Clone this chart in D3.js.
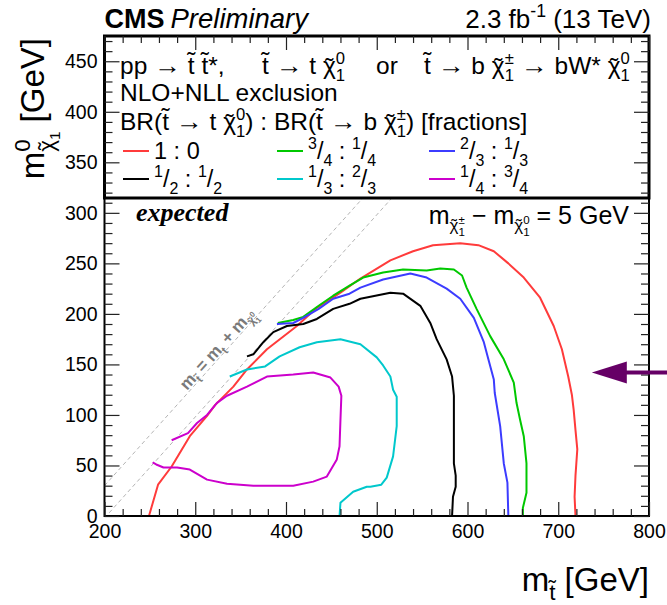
<!DOCTYPE html>
<html><head><meta charset="utf-8">
<script src="https://cdn.jsdelivr.net/npm/d3@7"></script>
<style>
body{margin:0;background:#fff}
svg text{white-space:pre}
</style></head><body>
<svg id="c" width="667" height="605"></svg>
<script>
// Expected exclusion contours in the (m_stop, m_LSP) plane, GeV.
// One contour per branching-ratio mix BR(t~ -> t chi0) : BR(t~ -> b chi+-).
const contour_1_0 = [[249,0],[259,31],[274,49],[294,79],[313,99],[322,110],[342,128],[357,145],[379,165],[412,188],[434,206],[460,221],[482,235],[515,253],[540,262],[562,268],[592,270],[612,268],[629,262],[645,250],[662,236],[680,216],[695,188],[704,165],[711,138],[715,120],[717,105],[719,85],[721,66],[719,40],[718,19],[719,0]];
const contour_34_14 = [[391,191],[408,194],[419,197],[436,208],[452,218],[470,228],[485,236],[507,241],[529,244],[555,243],[570,245],[585,244],[594,238],[599,226],[610,205],[625,178],[640,155],[651,132],[654,112],[658,95],[662,79],[665,52],[665,23],[661,8],[661,0]];
const contour_23_13 = [[390,190],[408,191],[419,196],[436,205],[452,215],[470,220],[482,226],[507,234],[537,240],[555,236],[577,225],[592,215],[607,196],[618,172],[623,155],[629,135],[630,122],[636,89],[640,52],[644,33],[645,0]];
const contour_12_12 = [[357,158],[364,160],[375,172],[386,182],[401,188],[419,190],[434,195],[452,205],[470,210],[482,215],[515,221],[529,220],[548,208],[559,191],[566,175],[577,155],[583,138],[585,119],[585,89],[585,52],[587,40],[587,29],[584,19],[583,0]];
const contour_13_23 = [[338,138],[357,145],[377,148],[393,158],[415,167],[434,172],[460,175],[482,170],[500,157],[507,149],[515,138],[518,125],[522,118],[522,89],[518,59],[511,38],[505,31],[493,29],[489,29],[474,24],[460,13],[459,0]];
const contour_14_34 = [[274,75],[292,82],[302,92],[313,100],[324,112],[335,119],[357,128],[379,138],[408,140],[430,142],[449,137],[458,128],[461,119],[460,95],[459,69],[456,56],[445,39],[430,34],[408,30],[364,30],[335,32],[313,36],[294,46],[280,48],[265,48],[257,51],[253,53]];

const contours = [contour_1_0, contour_34_14, contour_23_13, contour_12_12, contour_13_23, contour_14_34];
const ratioLabels = ["1:0", "3/4:1/4", "2/3:1/3", "1/2:1/2", "1/3:2/3", "1/4:3/4"];
const colors = ["#ff3b3b", "#00c800", "#3c3cff", "#000000", "#00c8cc", "#cc00cc"];

// Tick labels
const xTickLabels = ["200","300","400","500","600","700","800"];
const yTickLabels = ["0","50","100","150","200","250","300","350","400","450"];

// Kinematic reference lines m_LSP = m_stop - offset
const diagonalOffsets = [170, 202];
// Marker on the right edge (m_stop, m_LSP)
const markerPoint = [737, 142];

const FONT = "'Liberation Sans', Arial, Helvetica, sans-serif";
const svg = d3.select("#c");
const W = 667, H = 605;
const L = 104.5, R = 649, T = 36, B = 516;

const x = d3.scaleLinear().domain([200, 800]).range([L, R]);
const y = d3.scaleLinear().domain([0, 475]).range([B, T]);

svg.append("rect").attr("width", W).attr("height", H).attr("fill", "#fff");

svg.append("defs").append("clipPath").attr("id", "frame")
  .append("rect").attr("x", L).attr("y", T).attr("width", R - L).attr("height", B - T);

// --- rich-text helper (sub/superscripts, tilde accents, long arrows) ---
function put(g, str, px, py, size, o) {
  const t = g.append("text").attr("x", px).attr("y", py)
    .attr("font-size", size).attr("font-family", o.family || FONT)
    .attr("fill", o.fill || "#000").text(str);
  if (o.weight) t.attr("font-weight", o.weight);
  if (o.italic) t.attr("font-style", "italic");
  if (o.anchor) t.attr("text-anchor", o.anchor);
  if (o.stretch) {
    t.attr("textLength", o.stretch).attr("lengthAdjust", "spacingAndGlyphs");
    return o.stretch;
  }
  return t.node().getComputedTextLength();
}
function layout(g, items, px, py, size, o) {
  const x0 = px;
  for (const it of items) {
    if (typeof it === "string") px += put(g, it, px, py, size, o);
    else if (it.arrow) px += put(g, "\u2192", px, py, size, Object.assign({}, o, {stretch: 1.1 * size}));
    else if (it.tilde) {
      const w = put(g, it.tilde, px, py, size, o);
      const lift = it.tilde === "t" ? 0.2 : -0.02;
      put(g, "\u02DC", px + w / 2, py - lift * size, size, Object.assign({}, o, {anchor: "middle"}));
      px += w;
    }
    else if (it.sup) px += layout(g, it.sup, px, py - 0.42 * size, 0.68 * size, o);
    else if (it.sub) px += layout(g, it.sub, px, py + 0.28 * size, 0.68 * size, o);
    else if (it.stack) {
      const a = layout(g, it.stack[0], px, py - 0.42 * size, 0.68 * size, o);
      const b = layout(g, it.stack[1], px, py + 0.3 * size, 0.68 * size, o);
      px += Math.max(a, b);
    }
  }
  return px - x0;
}
function rich(parent, items, px, py, size, o = {}) {
  const g = parent.append("g");
  const w = layout(g, items, 0, 0, size, o);
  const dx = o.align === "end" ? -w : 0;
  g.attr("transform", `translate(${px + dx},${py})`);
  return w;
}
const tt = {tilde: "t"};
const AR = {arrow: true};
const chi = (sup, sub) => [{tilde: "\u03C7"}, {stack: [[sup], [sub]]}];
function ratioItems(key) {
  const side = s => s.includes("/") ? [{sup: [s.split("/")[0]]}, "/", {sub: [s.split("/")[1]]}] : [s];
  const [a, b] = key.split(":");
  return [...side(a), " : ", ...side(b)];
}

// --- diagonal reference lines ---
const plot = svg.append("g").attr("clip-path", "url(#frame)");
diagonalOffsets.forEach(off => {
  plot.append("line")
    .attr("x1", x(200)).attr("y1", y(200 - off))
    .attr("x2", x(800)).attr("y2", y(800 - off))
    .attr("stroke", "#b4b4b4").attr("stroke-width", 1).attr("stroke-dasharray", "4,3");
});

// --- contours ---
const line = d3.line().x(d => x(d[0])).y(d => y(d[1])).curve(d3.curveLinear);
contours.forEach((c, i) => {
  plot.append("path").attr("d", line(c)).attr("fill", "none")
    .attr("stroke", colors[i]).attr("stroke-width", 2).attr("stroke-linejoin", "round");
});

// diagonal label
{
  const ang = -Math.atan((y(0) - y(1)) / (x(1) - x(0))) * 180 / Math.PI;
  const g = svg.append("g").attr("transform", `translate(187,391) rotate(${ang})`);
  layout(g, ["m", {sub: [tt]}, " = m", {sub: ["t"]}, " + m", {sub: [{tilde: "\u03C7"}, {stack: [["0"], ["1"]]}]}],
    0, 0, 17, {fill: "#7a7a7a", weight: "bold"});
}

// --- legend box ---
svg.append("rect").attr("x", L).attr("y", T).attr("width", R - L).attr("height", 198 - T)
  .attr("fill", "#fff").attr("stroke", "#000").attr("stroke-width", 3);

// --- frame ---
svg.append("rect").attr("x", L).attr("y", T).attr("width", R - L).attr("height", B - T)
  .attr("fill", "none").attr("stroke", "#000").attr("stroke-width", 2);

// --- axes ---
const xMajor = xTickLabels.map(Number);
const xMinor = d3.range(200, 801, 20).filter(v => v % 100);
const yMajor = yTickLabels.map(Number);
const yMinor = d3.range(0, 476, 10).filter(v => v % 50);
function axisLayer(gen, tr) {
  const g = svg.append("g").attr("transform", tr).call(gen)
    .attr("font-family", FONT).attr("font-size", 19.5);
  g.select(".domain").remove();
  g.selectAll("line").attr("stroke", "#222").attr("stroke-width", 1.2);
  g.selectAll("text").attr("fill", "#000");
  return g;
}
axisLayer(d3.axisBottom(x).tickValues(xMinor).tickSize(-7).tickFormat(""), `translate(0,${B})`);
axisLayer(d3.axisBottom(x).tickValues(xMajor).tickSize(-14).tickPadding(8).tickFormat((d, i) => xTickLabels[i]), `translate(0,${B})`);
axisLayer(d3.axisTop(x).tickValues(xMinor).tickSize(-7).tickFormat(""), `translate(0,${T})`);
axisLayer(d3.axisTop(x).tickValues(xMajor).tickSize(-14).tickFormat(""), `translate(0,${T})`);
axisLayer(d3.axisLeft(y).tickValues(yMinor).tickSize(-8).tickFormat(""), `translate(${L},0)`);
axisLayer(d3.axisLeft(y).tickValues(yMajor).tickSize(-15).tickPadding(7).tickFormat((d, i) => yTickLabels[i]), `translate(${L},0)`);
axisLayer(d3.axisRight(y).tickValues(yMinor).tickSize(-8).tickFormat(""), `translate(${R},0)`);
axisLayer(d3.axisRight(y).tickValues(yMajor).tickSize(-15).tickFormat(""), `translate(${R},0)`);

// --- axis titles ---
rich(svg, ["m", {sub: [tt]}, " [GeV]"], R, 591, 33, {align: "end"});
{
  const g = svg.append("g");
  const w = layout(g, ["m", {stack: [["0"], [{tilde: "\u03C7"}, {sub: ["1"]}]]}, " [GeV]"], 0, 0, 33, {});
  g.attr("transform", `translate(44,${T + 2 + w}) rotate(-90)`);
}

// --- header ---
{
  const w = put(svg, "CMS", L, 28, 27, {weight: "bold"});
  put(svg, "Preliminary", L + w + 6, 28, 27.5, {italic: true});
  rich(svg, ["2.3 fb", {sup: ["-1"]}, " (13 TeV)"], R + 2, 28, 26, {align: "end"});
}

// --- legend text ---
const LS = 24.5;
rich(svg, ["pp ", AR, " ", tt, " ", tt, "*,"], 120, 74, LS);
rich(svg, [tt, " ", AR, " t ", ...chi("0", "1")], 262, 74, LS);
rich(svg, ["or"], 376, 74, LS);
rich(svg, [tt, " ", AR, " b ", ...chi("\u00B1", "1"), " ", AR, " bW* ", ...chi("0", "1")], 424, 74, LS);
rich(svg, ["NLO+NLL exclusion"], 120, 101, LS);
rich(svg, ["BR(", tt, " ", AR, " t ", ...chi("0", "1"), ") : BR(", tt, " ", AR, " b ", ...chi("\u00B1", "1"), ") [fractions]"], 120, 130, LS);

const colX = [123, 277, 429];
const rowY = [151, 179];
ratioLabels.forEach((k, i) => {
  const cx = colX[i % 3], cy = rowY[Math.floor(i / 3)];
  svg.append("line").attr("x1", cx).attr("x2", cx + 26).attr("y1", cy).attr("y2", cy)
    .attr("stroke", colors[i]).attr("stroke-width", 2);
  rich(svg, ratioItems(k), cx + 31, cy + 8, 23.5);
});

// --- annotations inside the frame ---
put(svg, "expected", 136, 221, 26, {family: "'Liberation Serif', 'Times New Roman', serif", weight: "bold", italic: true});
rich(svg, ["m", {sub: [{tilde: "\u03C7"}, {stack: [["\u00B1"], ["1"]]}]}, " \u2212 m", {sub: [{tilde: "\u03C7"}, {stack: [["0"], ["1"]]}]}, " = 5 GeV"], 629, 224, 25, {align: "end"});

// --- marker arrow at the right edge ---
{
  const ax = x(markerPoint[0]), ay = y(markerPoint[1]);
  svg.append("rect").attr("x", ax + 30).attr("y", ay - 2).attr("width", W - ax - 30).attr("height", 4).attr("fill", "#660066");
  svg.append("path").attr("d", `M${ax},${ay} L${ax + 35},${ay - 11} L${ax + 35},${ay + 11} Z`).attr("fill", "#660066");
}
</script>
</body></html>
